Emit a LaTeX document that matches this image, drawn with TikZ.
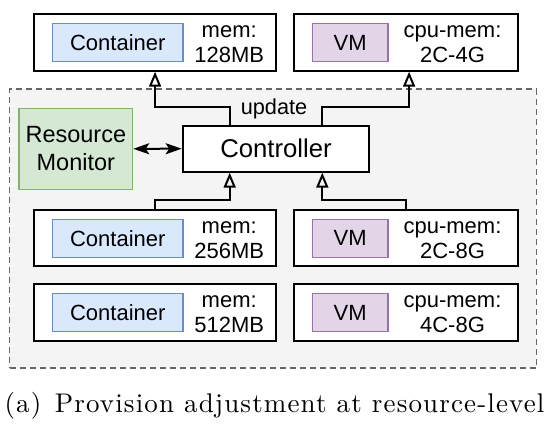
\documentclass[tikz,border=0pt]{standalone}
\usepackage{fontspec}
\newfontfamily\arialfont{Liberation Sans}
\newfontfamily\capfont[LetterSpace=4.2]{lmroman10-regular.otf}
\usetikzlibrary{arrows.meta}

\definecolor{contfill}{HTML}{DAE8FC}
\definecolor{contdraw}{HTML}{6C8EBF}
\definecolor{vmfill}{HTML}{E1D5E7}
\definecolor{vmdraw}{HTML}{9673A6}
\definecolor{monfill}{HTML}{D5E8D4}
\definecolor{mondraw}{HTML}{82B366}
\definecolor{regfill}{HTML}{F4F4F4}
\definecolor{regdraw}{HTML}{666666}

\begin{document}
\begin{tikzpicture}[x=1pt,y=-1pt]
    \tikzstyle{host}=[draw=black,line width=2pt,fill=white,inner sep=0pt,minimum height=56.4pt]
    \tikzstyle{inbox}=[line width=1.5pt,inner sep=0pt,minimum height=38pt,font=\arialfont\fontsize{22}{25}\selectfont]
    \tikzstyle{spec}=[align=center,inner sep=0pt,font=\arialfont\fontsize{22}{25}\selectfont]
    \tikzstyle{upd}=[line width=2pt,-{Triangle[open,length=15pt,width=12pt]}]
    \useasboundingbox (0,0) rectangle (547,432);

    % dashed area round the controller
    \node (region) [draw=regdraw,fill=regfill,line width=1.5pt,dash pattern=on 6pt off 4pt,
      minimum width=526.8pt,minimum height=278.8pt] at (272.9,228.6) {};

    % three rows of hosts
    \foreach \r/\dy/\ma/\mb in {1/0/128MB/2C-4G, 2/195.7/256MB/2C-8G, 3/270/512MB/4C-8G}{
      \node (hostc\r) [host,minimum width=242.5pt] at (155.05,42.5+\dy) {};
      \node (cont\r) [inbox,draw=contdraw,fill=contfill,minimum width=130.9pt] at (117.75,42.7+\dy) {Container};
      \node (memc\r) [spec] at (229.2,44.2+\dy) {mem:\\\ma};
      \node (hostv\r) [host,minimum width=224pt] at (406.1,42.5+\dy) {};
      \node (vm\r) [inbox,draw=vmdraw,fill=vmfill,minimum width=75.7pt] at (350.15,42.7+\dy) {VM};
      \node (memv\r) [spec] at (452.5,44.2+\dy) {cpu-mem:\\\mb};
    }

    \node (ctrl) [draw=black,fill=white,line width=2pt,minimum width=186.6pt,minimum height=46pt,
      font=\arialfont\fontsize{25.7}{28}\selectfont] at (276,148.7) {Controller};
    \node (mon) [draw=mondraw,fill=monfill,line width=1.5pt,minimum width=113.3pt,minimum height=81pt,
      align=center,font=\arialfont\fontsize{23.5}{28}\selectfont] at (75.85,148.8) {Resource\\Monitor};
    \node (updlbl) [font=\arialfont\fontsize{21.7}{25}\selectfont] at (274,109) {update};

    \draw[upd] ([xshift=-46.3pt]ctrl.north) -- ++(0,-18) -| (hostc1.south);
    \draw[upd] ([xshift=46.3pt]ctrl.north) -- ++(0,-18) -| ([xshift=3pt]hostv1.south);
    \draw[upd] (hostc2.north) -- ++(0,-9) -| ([xshift=-46.3pt]ctrl.south);
    \draw[upd] (hostv2.north) -- ++(0,-9) -| ([xshift=46.3pt]ctrl.south);
    \draw[line width=2pt,{Stealth[length=16pt,width=11pt,inset=3.5pt]}-{Stealth[length=16pt,width=11pt,inset=3.5pt]}] (mon.east) -- (ctrl.west);

    \node (caption) [font=\capfont\fontsize{27}{32}\selectfont] at (274.5,406) {(a)\enspace Provision adjustment at resource-level};
\end{tikzpicture}
\end{document}
